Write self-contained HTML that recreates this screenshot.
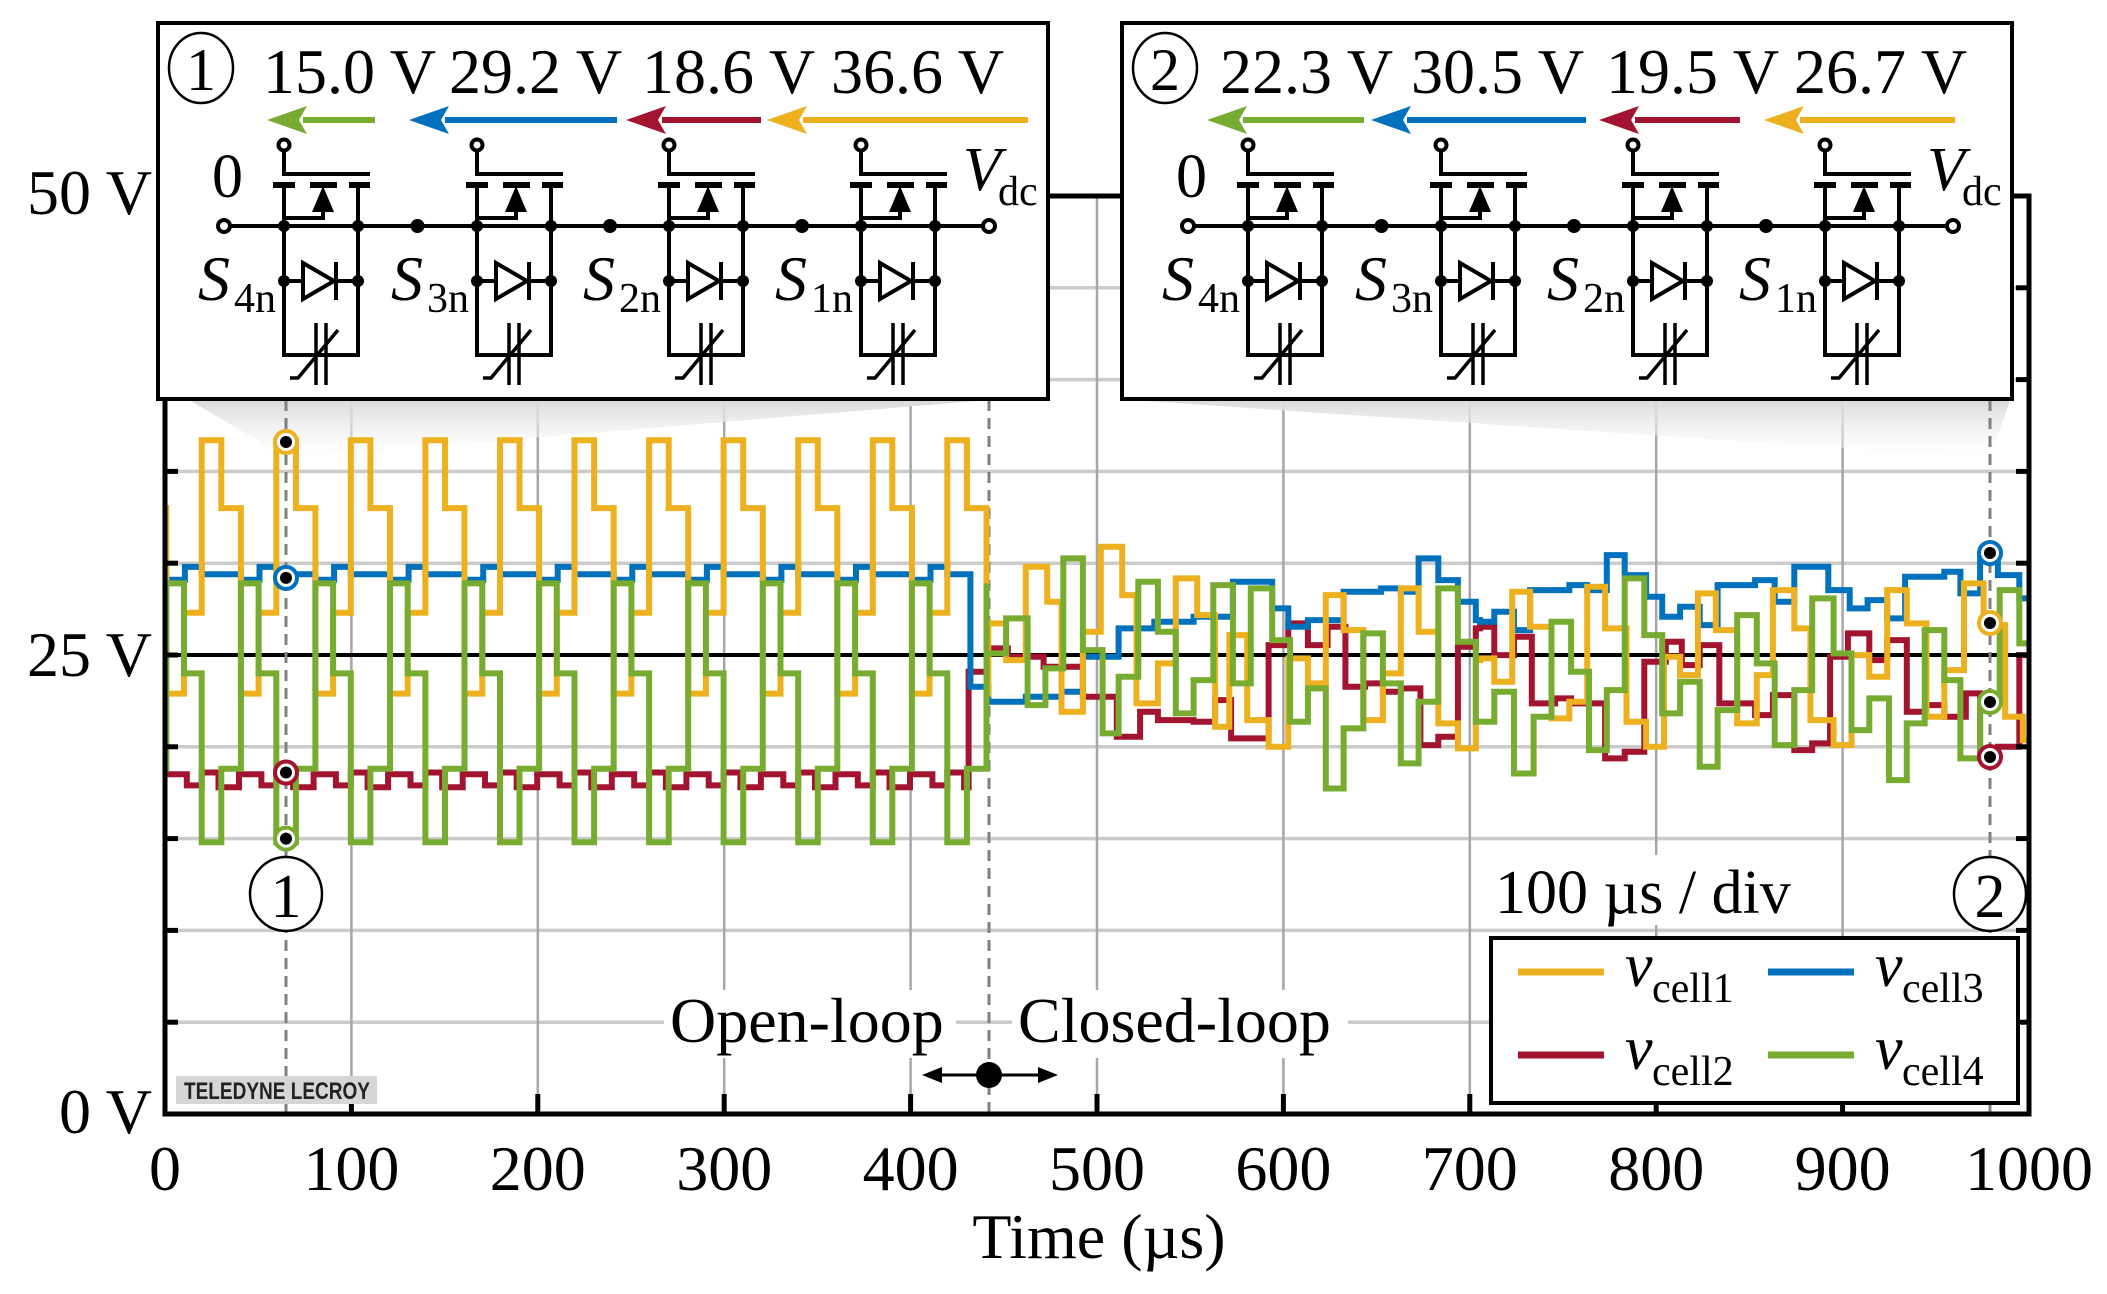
<!DOCTYPE html>
<html><head><meta charset="utf-8">
<style>
html,body{margin:0;padding:0;background:#fff;}
svg{display:block;}
text{font-family:"Liberation Serif",serif;fill:#000;}
</style></head>
<body>
<svg id="s" xmlns="http://www.w3.org/2000/svg" width="2107" height="1294" viewBox="0 0 2107 1294">
<defs>
<linearGradient id="wg" x1="0" y1="0" x2="0" y2="1">
<stop offset="0" stop-color="#d9d9d9"/><stop offset="1" stop-color="#ffffff" stop-opacity="0.3"/>
</linearGradient>
<clipPath id="pc"><rect x="165" y="150" width="1864" height="964"/></clipPath>
</defs>
<g id="grid"></g>
<polygon points="189,400 989,400 288,458" fill="url(#wg)"/>
<polygon points="1130,400 2010,400 1990,458" fill="url(#wg)"/>
<g id="dash" stroke="#808080" stroke-width="3" stroke-dasharray="11,7" fill="none">
<line x1="286" y1="400" x2="286" y2="1114"/>
<line x1="989" y1="400" x2="989" y2="1114"/>
<line x1="1990" y1="400" x2="1990" y2="1114"/>
</g>
<g id="traces" clip-path="url(#pc)" fill="none" stroke-width="6" stroke-linejoin="miter"></g>
<g id="marks"></g>
<g id="axes" stroke="#000" fill="none"></g>
<g id="ins"></g>
<g id="labels"></g>
</svg>
<script>
var NS="http://www.w3.org/2000/svg";
function el(p,tag,a,txt){var e=document.createElementNS(NS,tag);for(var k in a)e.setAttribute(k,a[k]);if(txt!==undefined)e.textContent=txt;p.appendChild(e);return e;}
function X(t){return 165+t*1.864;} function Y(v){return 1114-v*18.36;}
var G=document.getElementById('grid');
for(var v=5;v<50;v+=5){ if(v==25)continue; el(G,'line',{x1:165,x2:2029,y1:Y(v),y2:Y(v),stroke:'#cbcbcb','stroke-width':3.5});}
for(var t=100;t<1000;t+=100){ el(G,'line',{x1:X(t),x2:X(t),y1:196,y2:1114,stroke:'#a6a6a6','stroke-width':2.5});}
el(G,'line',{x1:165,x2:2029,y1:Y(25),y2:Y(25),stroke:'#000','stroke-width':4});
function periodic(segs,tEnd){var p=[];for(var k=-1;k<13;k++)for(var i=0;i<segs.length;i++){var t=19.7+40*k+segs[i][0];if(t<tEnd)p.push([t,segs[i][1]]);}
p.sort(function(a,b){return a[0]-b[0];});var out=[];var last=null;for(var i=0;i<p.length;i++){if(p[i][0]<=0)last=p[i];else out.push(p[i]);}out.unshift([0,last[1]]);return out;}
function z5(l){return l.map(function(q){return [415.8+q[0]*0.1916,32.35-q[1]*0.01816];}).filter(function(q){return q[0]<705.5;});}
function z6(l){return l.map(function(q){return [705.5+q[0]*0.1916,32.35-q[1]*0.01816];});}
function build(per,tsw,a,b){return per.concat(z5(a)).concat(z6(b));}
var Yl=build(periodic([[0,36.7],[10.5,33.0],[21,22.9],[30.5,27.3]],441.5),0,
[[135,310],[185,420],[240,140],[300,245],[340,575],[400,335],[450,80],[510,225],[550,550],[610,430],[660,175],[720,285],[770,620],[810,345],[860,600],[920,680],[975,415],[1030,490],[1080,225],[1130,330],[1185,600],[1240,460],[1290,205],[1340,335],[1395,610],[1450,685],[1500,420]],
[[0,415],[40,485],[90,215],[140,320],[200,595],[250,545],[300,200],[350,325],[410,605],[465,680],[515,410],[560,465],[610,220],[660,330],[720,610],[775,465],[820,210],[880,325],[925,600],[990,675],[1040,405],[1090,470],[1140,210],[1195,310],[1250,590],[1300,450],[1355,190],[1410,315],[1470,590],[1520,660]]);
var Bl=build(periodic([[0,29.4],[21,29.1],[31,29.8]],432.1),0,
[[85,500],[135,545],[240,530],[340,515],[400,410],[500,325],[600,305],[710,290],[820,185],[930,265],[975,320],[1030,300],[1130,215],[1235,205],[1290,215],[1340,115],[1395,180],[1450,245],[1500,300]],
[[0,305],[40,275],[95,330],[140,210],[250,195],[300,210],[355,105],[405,165],[465,230],[510,290],[560,260],[615,315],[665,195],[770,180],[825,245],[880,140],[975,210],[1035,265],[1085,240],[1140,295],[1190,170],[1300,155],[1345,220],[1400,105],[1450,165],[1510,235]]);
var Rl=build(periodic([[0,18.6],[9,17.8],[20,18.5],[32,17.9]],431.1),0,
[[80,455],[130,385],[190,410],[290,440],[400,530],[495,650],[560,575],[610,600],[710,605],[770,540],[815,655],[920,375],[975,310],[1030,375],[1085,320],[1135,500],[1190,490],[1240,515],[1290,505],[1345,675],[1395,650],[1450,380],[1500,325]],
[[0,320],[40,405],[95,350],[145,550],[210,535],[255,550],[350,715],[405,695],[460,425],[520,365],[565,435],[615,375],[670,550],[770,585],[820,525],[880,690],[930,670],[980,410],[1030,340],[1090,420],[1140,360],[1195,575],[1250,555],[1300,590],[1360,520],[1400,710],[1450,680],[1510,405]]);
var Gl=build(periodic([[0,14.8],[10.5,18.8],[21,28.9],[30.5,24.0]],441.5),0,
[[130,400],[185,295],[245,555],[295,445],[345,115],[400,390],[455,640],[500,470],[555,185],[610,335],[660,580],[710,480],[765,195],[820,490],[870,205],[930,360],[980,605],[1030,505],[1080,805],[1130,625],[1185,340],[1240,490],[1290,730],[1340,545],[1395,205],[1450,365],[1500,605]],
[[0,605],[40,515],[95,760],[150,590],[200,305],[255,455],[305,690],[355,510],[405,175],[460,345],[510,580],[560,485],[615,740],[665,570],[720,285],[775,430],[825,675],[880,510],[930,235],[990,400],[1040,630],[1090,535],[1145,780],[1195,610],[1245,330],[1300,480],[1345,715],[1400,545],[1455,210],[1510,370]]);
function path(pts){var d='M'+X(pts[0][0]).toFixed(1)+' '+Y(pts[0][1]).toFixed(1);for(var i=1;i<pts.length;i++){d+='H'+X(pts[i][0]).toFixed(1)+'V'+Y(pts[i][1]).toFixed(1);}d+='H'+X(1005).toFixed(1);return d;}
var T=document.getElementById('traces');
var cols={y:'#EDB120',b:'#0072BD',r:'#A2142F',g:'#77AC30'};
el(T,'path',{d:path(Rl),stroke:cols.r});
el(T,'path',{d:path(Bl),stroke:cols.b});
el(T,'path',{d:path(Yl),stroke:cols.y});
el(T,'path',{d:path(Gl),stroke:cols.g});
var M=document.getElementById('marks');
function mk(x,y,c){el(M,'circle',{cx:x,cy:y,r:11,fill:'#fff',stroke:c,'stroke-width':4});el(M,'circle',{cx:x,cy:y,r:6,fill:'#000'});}
mk(286,Y(36.6),cols.y);mk(286,Y(29.2),cols.b);mk(286,Y(18.6),cols.r);mk(286,Y(15.0),cols.g);
mk(1990,553,cols.b);mk(1990,623,cols.y);mk(1990,702,cols.g);mk(1990,757,cols.r);
var A=document.getElementById('axes');
el(A,'path',{d:'M165 196V1114H2029V196H1040',stroke:'#000','stroke-width':5});
for(var v=5;v<50;v+=5){el(A,'line',{x1:165,x2:178,y1:Y(v),y2:Y(v),'stroke-width':5});el(A,'line',{x1:2016,x2:2029,y1:Y(v),y2:Y(v),'stroke-width':5});}
for(var t=100;t<1000;t+=100){el(A,'line',{x1:X(t),x2:X(t),y1:1114,y2:1094,'stroke-width':5});}
var I=document.getElementById('ins');
function inset(dx,num,vals,arrows,txs){
 el(I,'rect',{x:158+dx,y:23,width:890,height:376,fill:'#fff',stroke:'#000','stroke-width':4});
 el(I,'ellipse',{cx:201+dx,cy:68,rx:32,ry:35,fill:'none',stroke:'#000','stroke-width':2.5});
 el(I,'text',{x:201+dx,y:90,'font-size':60,'text-anchor':'middle'},num);
 for(var i=0;i<4;i++){el(I,'text',{x:txs[i],y:93,'font-size':64},vals[i]);}
 var ac=[cols.g,cols.b,cols.r,cols.y];
 for(var i=0;i<4;i++){var a=arrows[i];el(I,'line',{x1:a[0]+36,x2:a[1],y1:120,y2:120,stroke:ac[i],'stroke-width':6});
  el(I,'polygon',{points:(a[0])+',120 '+(a[0]+40)+',106 '+(a[0]+32)+',120 '+(a[0]+40)+',134',fill:ac[i]});}
 var g=el(I,'g',{stroke:'#000','stroke-width':4,fill:'none'});
 el(g,'line',{x1:224+dx,x2:989+dx,y1:226,y2:226});
 el(g,'circle',{cx:224+dx,cy:226,r:6,fill:'#fff'});el(g,'circle',{cx:989+dx,cy:226,r:6,fill:'#fff'});
 el(I,'text',{x:212+dx,y:197,'font-size':62},'0');
 el(I,'text',{x:963+dx,y:190,'font-size':62,'font-style':'italic'},'V');
 el(I,'text',{x:998+dx,y:205,'font-size':42},'dc');
 var Ls=[284,477,669,861];var subs=['4n','3n','2n','1n'];
 for(var k=0;k<4;k++){var L=Ls[k]+dx;
  el(g,'circle',{cx:L,cy:145,r:5.5,fill:'#fff'});
  el(g,'path',{d:'M'+L+' 151V174H'+(L+86)});
  el(g,'path',{d:'M'+(L-11)+' 185H'+(L+11)+'M'+(L+26)+' 185H'+(L+53)+'M'+(L+65)+' 185H'+(L+86),'stroke-width':6});
  el(g,'path',{d:'M'+L+' 185V355H'+(L+74)+'V185'});
  el(g,'path',{d:'M'+(L+39)+' 205V218H'+L});
  el(I,'polygon',{points:(L+39)+',186 '+(L+28)+',212 '+(L+50)+',212',fill:'#000'});
  el(g,'line',{x1:L,x2:L+74,y1:281,y2:281});
  el(g,'polygon',{points:(L+19)+',263 '+(L+19)+',299 '+(L+50)+',281',fill:'#fff'});
  el(g,'line',{x1:L+52,x2:L+52,y1:262,y2:300});
  el(g,'path',{d:'M'+(L+32)+' 323V385M'+(L+42)+' 323V385','stroke-width':3.5});
  el(g,'path',{d:'M'+(L+6)+' 378H'+(L+14)+'L'+(L+54)+' 330','stroke-width':3.5});
  [[L,226],[L+74,226],[L,281],[L+74,281]].forEach(function(p){el(I,'circle',{cx:p[0],cy:p[1],r:6,fill:'#000'});});
  if(k<3){el(I,'circle',{cx:(L+74+Ls[k+1]+dx)/2,cy:226,r:7,fill:'#000'});}
  el(I,'text',{x:L-86,y:300,'font-size':64,'font-style':'italic'},'S');
  el(I,'text',{x:L-50,y:312,'font-size':42},subs[k]);
 }
}
inset(0,'1',['15.0 V','29.2 V','18.6 V','36.6 V'],[[267,375],[409,617],[626,761],[767,1028]],[263,449,642,831]);
inset(964,'2',['22.3 V','30.5 V','19.5 V','26.7 V'],[[1207,1364],[1371,1586],[1599,1740],[1764,1955]],[1220,1411,1606,1794]);
var Lb=document.getElementById('labels');
[0,100,200,300,400,500,600,700,800,900,1000].forEach(function(t){el(Lb,'text',{x:X(t),y:1190,'font-size':64,'text-anchor':'middle'},String(t));});
el(Lb,'text',{x:1099,y:1258,'font-size':64,'text-anchor':'middle'},'Time (\u00b5s)');
el(Lb,'text',{x:152,y:214,'font-size':64,'text-anchor':'end'},'50 V');
el(Lb,'text',{x:152,y:676,'font-size':64,'text-anchor':'end'},'25 V');
el(Lb,'text',{x:152,y:1133,'font-size':64,'text-anchor':'end'},'0 V');
function circ(cx,n){el(Lb,'ellipse',{cx:cx,cy:894,rx:36,ry:37,fill:'#fff',stroke:'#000','stroke-width':2.5});el(Lb,'text',{x:cx,y:917,'font-size':62,'text-anchor':'middle'},n);}
circ(286,'1');circ(1990,'2');
el(Lb,'rect',{x:1488,y:855,width:348,height:70,fill:'#fff'});
el(Lb,'text',{x:1495,y:913,'font-size':62},'100 \u00b5s / div');
el(Lb,'rect',{x:664,y:990,width:292,height:68,fill:'#fff'});
el(Lb,'text',{x:670,y:1042,'font-size':64},'Open-loop');
el(Lb,'rect',{x:1012,y:990,width:336,height:68,fill:'#fff'});
el(Lb,'text',{x:1018,y:1042,'font-size':64},'Closed-loop');
el(Lb,'line',{x1:935,x2:1045,y1:1075,y2:1075,stroke:'#000','stroke-width':3});
el(Lb,'polygon',{points:'922,1075 942,1067 942,1083',fill:'#000'});
el(Lb,'polygon',{points:'1058,1075 1038,1067 1038,1083',fill:'#000'});
el(Lb,'circle',{cx:989,cy:1075,r:13,fill:'#000'});
el(Lb,'rect',{x:176,y:1076,width:201,height:28,fill:'#d6d6d6'});
el(Lb,'text',{x:184,y:1099,'font-size':24,style:'font-family:"Liberation Sans",sans-serif;font-weight:bold;fill:#222',textLength:186,lengthAdjust:'spacingAndGlyphs'},'TELEDYNE LECROY');
el(Lb,'rect',{x:1491,y:938,width:527,height:165,fill:'#fff',stroke:'#000','stroke-width':4});
function leg(x,y,c,sub){el(Lb,'line',{x1:x,x2:x+86,y1:y,y2:y,stroke:c,'stroke-width':7});
 el(Lb,'text',{x:x+107,y:y+14,'font-size':62,'font-style':'italic'},'v');
 el(Lb,'text',{x:x+134,y:y+30,'font-size':42},sub);}
leg(1518,972,cols.y,'cell1');leg(1768,972,cols.b,'cell3');
leg(1518,1055,cols.r,'cell2');leg(1768,1055,cols.g,'cell4');
</script>
</body></html>
